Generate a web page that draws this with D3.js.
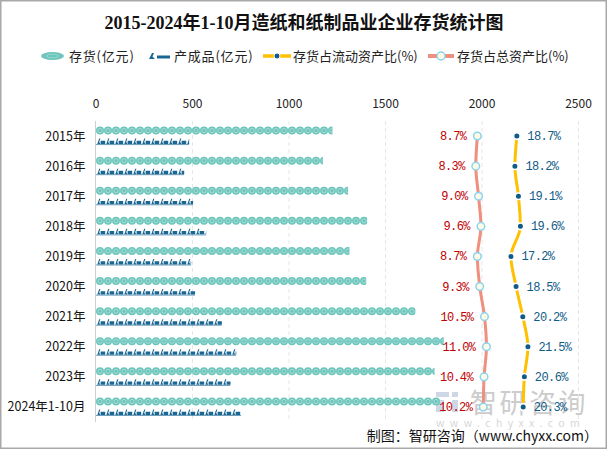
<!DOCTYPE html>
<html><head><meta charset="utf-8">
<script src="https://cdn.jsdelivr.net/npm/d3@7/dist/d3.min.js"></script>
<style>html,body{margin:0;padding:0;background:#fff;}svg{display:block;}</style>
</head><body><svg id="c" width="607" height="449"></svg>
<script>
const categories = ["2015年","2016年","2017年","2018年","2019年","2020年","2021年","2022年","2023年","2024年1-10月"];
const inventory = [1225,1176,1306,1405,1313,1400,1655,1802,1754,1782];        // 存货(亿元)
const finishedGoods = [483,457,503,571,493,514,652,727,697,752];               // 产成品(亿元)
const currentAssetRatio = [18.7,18.2,19.1,19.6,17.2,18.5,20.2,21.5,20.6,20.3]; // 存货占流动资产比(%)
const totalAssetRatio = [8.7,8.3,9.0,9.6,8.7,9.3,10.5,11.0,10.4,10.2];        // 存货占总资产比(%)
const xTicks = [0,500,1000,1500,2000,2500];

const svg = d3.select("#c");
const CJK = "'Noto Sans CJK SC','Noto Sans',sans-serif";

svg.append("rect").attr("x",0.75).attr("y",0.75).attr("width",605.5).attr("height",447.5)
  .attr("fill","#fff").attr("stroke","#a8a8a8").attr("stroke-width",1.5);

svg.append("text").attr("x",304).attr("y",29).attr("text-anchor","middle")
  .attr("font-family","'Liberation Serif','Noto Sans CJK SC',serif").attr("font-weight","bold")
  .attr("font-size",18).attr("fill","#111").text("2015-2024年1-10月造纸和纸制品业企业存货统计图");

const x = d3.scaleLinear().domain([0,2500]).range([96,578.5]);
const x2 = d3.scaleLinear().domain([-87.85,34.43]).range([96,579]);
const y = d3.scaleBand().domain(categories).range([121,422]);
const cy = c => y(c) + y.bandwidth()/2;

// watermark (drawn beneath the data marks)
const wm = svg.append("g").attr("opacity",0.5);
wm.append("rect").attr("x",436).attr("y",392).attr("width",13).attr("height",5).attr("fill","#9fb0cf");
wm.append("rect").attr("x",436).attr("y",400).attr("width",8).attr("height",12).attr("fill","#9fb0cf");
wm.append("rect").attr("x",452).attr("y",392).attr("width",6).attr("height",5).attr("fill","#9fb0cf");
wm.append("rect").attr("x",452).attr("y",400).attr("width",6).attr("height",12).attr("fill","#9fb0cf");
wm.append("text").attr("x",470).attr("y",413).attr("font-family",CJK).attr("font-size",27).attr("letter-spacing",2.5)
  .attr("fill","#9a9a9a").text("智研咨询");
wm.append("text").attr("x",436).attr("y",427).attr("font-family",CJK).attr("font-size",10.5).attr("letter-spacing",5.4)
  .attr("fill","#b0b0b0").text("www.chyxx.com");

// grid lines
svg.append("g").selectAll("line").data(xTicks.slice(1)).join("line")
  .attr("x1",d=>x(d)).attr("x2",d=>x(d)).attr("y1",121).attr("y2",422)
  .attr("stroke","#e6e6e6").attr("stroke-dasharray","4,3").attr("stroke-width",1);
// top axis labels
svg.append("g").selectAll("text").data(xTicks).join("text")
  .attr("x",d=>x(d)).attr("y",108).attr("text-anchor","middle")
  .attr("font-family",CJK).attr("font-size",12).attr("fill","#222").text(d=>d);
// category axis
svg.append("line").attr("x1",95.5).attr("x2",95.5).attr("y1",121).attr("y2",422).attr("stroke","#cfcfcf");
svg.append("g").selectAll("text").data(categories).join("text")
  .attr("x",85.5).attr("y",d=>cy(d)+4.5).attr("text-anchor","end")
  .attr("font-family",CJK).attr("font-size",12.5).attr("fill","#111").text(d=>d);

const defs = svg.append("defs");
// 存货 pictorial bars
const TEAL="#6dc5bc", TEAL_L="#a6ddd7", NAVY="#1b6793";
categories.forEach((c,i)=>{
  const w = x(inventory[i]) - x(0);
  const id = "clipA"+i;
  defs.append("clipPath").attr("id",id).append("rect").attr("x",x(0)).attr("y",cy(c)-11).attr("width",w).attr("height",11);
  const g = svg.append("g").attr("clip-path",`url(#${id})`);
  const n = Math.ceil(w/8);
  const yc = cy(c)-5.5;
  g.selectAll("circle.o").data(d3.range(n)).join("circle").attr("class","o")
    .attr("cx",k=>x(0)+4+k*8).attr("cy",yc).attr("r",4).attr("fill",TEAL);
  g.selectAll("circle.i").data(d3.range(n)).join("circle").attr("class","i")
    .attr("cx",k=>x(0)+4+k*8).attr("cy",yc).attr("r",2.1).attr("fill","none").attr("stroke",TEAL_L).attr("stroke-width",1);
});
// 产成品 pictorial bars
function iconPath(x0,y0){ // y0 = top
  return `M${x0+0.3},${y0+5.5} L${x0+2.2},${y0} L${x0+3.4},${y0} L${x0+2.2},${y0+3.3} L${x0+3.3},${y0+5.5} Z M${x0+3.6},${y0+2.2} h4.6 v3.3 h-4.6 Z`;
}
categories.forEach((c,i)=>{
  const w = x(finishedGoods[i]) - x(0);
  const id = "clipB"+i;
  defs.append("clipPath").attr("id",id).append("rect").attr("x",x(0)).attr("y",cy(c)+1).attr("width",w).attr("height",10);
  const g = svg.append("g").attr("clip-path",`url(#${id})`);
  const n = Math.ceil(w/9);
  const top = cy(c)+2.5;
  g.selectAll("path").data(d3.range(n)).join("path")
    .attr("d",k=>iconPath(x(0)+1+k*9,top)).attr("fill",NAVY);
  g.append("rect").attr("x",x(0)).attr("y",top+5.6).attr("width",w).attr("height",0.9).attr("fill",NAVY).attr("opacity",0.7);
});

// lines
const SALMON="#ef8f7d", GOLD="#ffc000", DOT="#0f5c86";
const lineT = d3.line().x((d,i)=>x2(d)).y((d,i)=>cy(categories[i])).curve(d3.curveMonotoneY);
svg.append("path").attr("d",lineT(totalAssetRatio)).attr("fill","none").attr("stroke",SALMON).attr("stroke-width",3);
svg.append("path").attr("d",lineT(currentAssetRatio)).attr("fill","none").attr("stroke",GOLD).attr("stroke-width",3);
svg.append("g").selectAll("circle").data(totalAssetRatio).join("circle")
  .attr("cx",d=>x2(d)).attr("cy",(d,i)=>cy(categories[i])).attr("r",3.8)
  .attr("fill","#fdfbe6").attr("stroke","#8dd2ef").attr("stroke-width",1.5);
svg.append("g").selectAll("circle").data(currentAssetRatio).join("circle")
  .attr("cx",d=>x2(d)).attr("cy",(d,i)=>cy(categories[i])).attr("r",3.3)
  .attr("fill",DOT).attr("stroke","#fff").attr("stroke-width",1.6);

const LBL="'Liberation Mono','DejaVu Sans Mono',monospace";
svg.append("g").selectAll("text").data(totalAssetRatio).join("text")
  .attr("x",d=>x2(d)-11).attr("y",(d,i)=>cy(categories[i])+4).attr("text-anchor","end")
  .attr("font-family",LBL).attr("font-size",12).attr("letter-spacing",-0.6).attr("fill","#c00000")
  .text(d=>d.toFixed(1)+"%");
svg.append("g").selectAll("text").data(currentAssetRatio).join("text")
  .attr("x",d=>x2(d)+10.5).attr("y",(d,i)=>cy(categories[i])+4).attr("text-anchor","start")
  .attr("font-family",LBL).attr("font-size",12).attr("letter-spacing",-0.6).attr("fill","#0f5c86")
  .text(d=>d.toFixed(1)+"%");

// legend
const lg = svg.append("g").attr("font-family",CJK).attr("font-size",13).attr("fill","#222");
lg.append("ellipse").attr("cx",52.5).attr("cy",56).attr("rx",11.5).attr("ry",4).attr("fill",TEAL);
lg.append("ellipse").attr("cx",52.5).attr("cy",56).attr("rx",6).attr("ry",1.8).attr("fill","none").attr("stroke",TEAL_L).attr("stroke-width",0.8);
lg.append("text").attr("x",69).attr("y",60.5).attr("letter-spacing",0.8).text("存货(亿元)");
lg.append("path").attr("d","M149,59 L152,53 L154,53 L152.5,56.5 L155,59 Z").attr("fill",NAVY);
lg.append("line").attr("x1",157).attr("x2",170).attr("y1",57).attr("y2",57).attr("stroke",NAVY).attr("stroke-width",3);
lg.append("text").attr("x",174).attr("y",60.5).attr("letter-spacing",0.8).text("产成品(亿元)");
lg.append("line").attr("x1",263).attr("x2",291).attr("y1",56).attr("y2",56).attr("stroke",GOLD).attr("stroke-width",3.5);
lg.append("circle").attr("cx",277).attr("cy",56).attr("r",3).attr("fill",DOT).attr("stroke","#fff").attr("stroke-width",1);
lg.append("text").attr("x",293).attr("y",60.5).text("存货占流动资产比(%)");
lg.append("line").attr("x1",428).attr("x2",454).attr("y1",56).attr("y2",56).attr("stroke",SALMON).attr("stroke-width",4);
lg.append("circle").attr("cx",441).attr("cy",56).attr("r",4).attr("fill","#fdfbe6").attr("stroke","#8dd2ef").attr("stroke-width",1.5);
lg.append("text").attr("x",457).attr("y",60.5).text("存货占总资产比(%)");

// footer
svg.append("text").attr("x",598).attr("y",441).attr("text-anchor","end")
  .attr("font-family",CJK).attr("font-size",14).attr("fill","#111").text("制图：智研咨询（www.chyxx.com）");
</script></body></html>
